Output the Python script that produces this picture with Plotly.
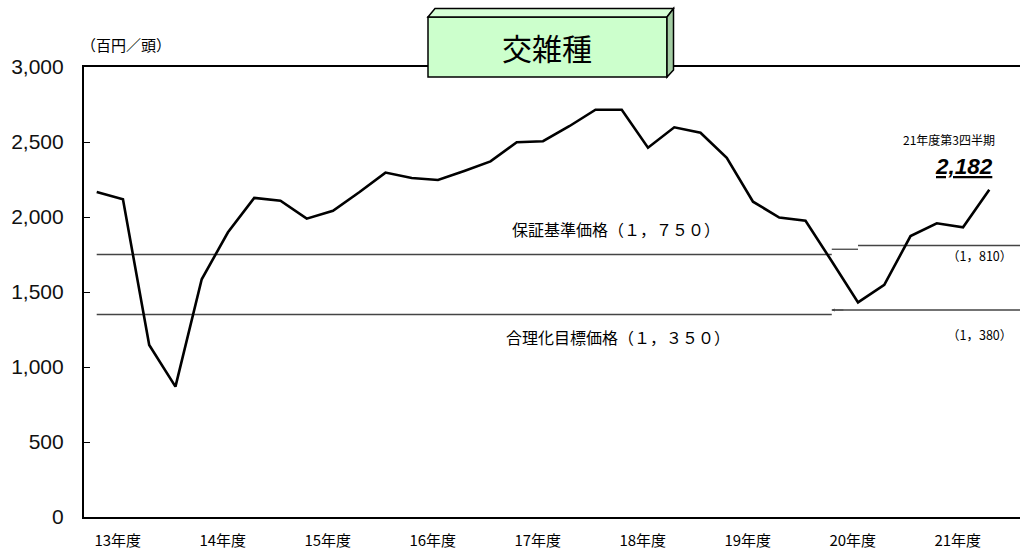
import plotly.graph_objects as go

# ---- data ----
quarters = list(range(35))  # 13年度Q1 ... 21年度Q3
prices = [2167, 2118, 1147, 869, 1585, 1898, 2127, 2109, 1989, 2042,
          2165, 2296, 2260, 2247, 2307, 2371, 2498, 2505, 2605, 2715,
          2715, 2462, 2598, 2562, 2395, 2102, 1996, 1975, 1705, 1431,
          1547, 1873, 1958, 1931, 2182]
year_labels = ["13年度", "14年度", "15年度", "16年度", "17年度",
               "18年度", "19年度", "20年度", "21年度"]
year_label_pos = [0.8 + 4 * k for k in range(len(year_labels))]

# guarantee price lines (segments)
guar_x0 = [0, 28, 29]
guar_x1 = [28, 29, 36]
guar_v = [1750, 1785, 1810]
# rationalization target price lines
targ_x0 = [0, 28]
targ_x1 = [28, 36]
targ_v = [1350, 1380]

last_label = "21年度第3四半期"

# ---- figure ----
W, H = 1020, 551
ML, MR, MT, MB = 84, 0, 67, 34
PW, PH = W - ML - MR, H - MT - MB


def px(x):
    return (x - ML) / PW


def py(y):
    return (H - MB - y) / PH


fig = go.Figure()

# reference lines
for xs0, xs1, vs in ((guar_x0, guar_x1, guar_v), (targ_x0, targ_x1, targ_v)):
    for a, b, v in zip(xs0, xs1, vs):
        fig.add_trace(go.Scatter(x=[a, b], y=[v, v], mode="lines",
                                 line=dict(color="#444444", width=1.3),
                                 hoverinfo="skip", showlegend=False))

fig.add_trace(go.Scatter(x=quarters, y=prices, mode="lines",
                         line=dict(color="black", width=2.6),
                         showlegend=False))

cjk = "Noto Sans CJK JP"

fig.update_layout(
    width=W, height=H,
    margin=dict(l=ML, r=MR, t=MT, b=MB, pad=0),
    paper_bgcolor="white", plot_bgcolor="white",
    xaxis=dict(range=[-0.484, 35.17], tickvals=year_label_pos, ticktext=year_labels,
               showgrid=False, zeroline=False, showline=True, mirror=True,
               linecolor="black", linewidth=2.2, ticks="", ticklabelstandoff=9,
               tickfont=dict(family=cjk, size=15, color="black")),
    yaxis=dict(range=[0, 3000], tickvals=[0, 500, 1000, 1500, 2000, 2500, 3000],
               ticktext=["0", "500", "1,000", "1,500", "2,000", "2,500", "3,000"],
               showgrid=False, zeroline=False, showline=True, mirror=False,
               linecolor="black", linewidth=2.2, ticks="inside", ticklen=6,
               tickcolor="black", tickwidth=1, ticklabelstandoff=14,
               tickfont=dict(family="Liberation Sans, Arial", size=21, color="#111111")),
)

# title box (3D bevel)
front = dict(x0=px(428), x1=px(667), y0=py(77), y1=py(17))
fig.add_shape(type="rect", xref="paper", yref="paper", **front,
              fillcolor="#CCFFCC", line=dict(color="black", width=1.5), layer="above")
top_path = "M {} {} L {} {} L {} {} L {} {} Z".format(
    px(428), py(17), px(435), py(8.5), px(673.5), py(8.5), px(667), py(17))
fig.add_shape(type="path", xref="paper", yref="paper", path=top_path,
              fillcolor="#D6FFD6", line=dict(color="black", width=1.5), layer="above")
right_path = "M {} {} L {} {} L {} {} L {} {} Z".format(
    px(667), py(17), px(673.5), py(8.5), px(673.5), py(70), px(667), py(77))
fig.add_shape(type="path", xref="paper", yref="paper", path=right_path,
              fillcolor="#A3CCA3", line=dict(color="black", width=1.5), layer="above")

fig.add_annotation(xref="paper", yref="paper", x=px(547), y=py(47), text="交雑種",
                   showarrow=False, xanchor="center", yanchor="middle",
                   font=dict(family=cjk, size=30, color="black"))

fig.add_annotation(xref="paper", yref="paper", x=px(79), y=py(45), text="（百円／頭）",
                   showarrow=False, xanchor="left", yanchor="middle",
                   font=dict(family=cjk, size=15, color="black"))

fig.add_annotation(x=19.78, y=guar_v[0], yshift=26, text="保証基準価格（１，７５０）",
                   showarrow=False, xanchor="center", yanchor="middle",
                   font=dict(family=cjk, size=16, color="black"))
fig.add_annotation(x=19.85, y=targ_v[0], yshift=-22, text="合理化目標価格（１，３５０）",
                   showarrow=False, xanchor="center", yanchor="middle",
                   font=dict(family=cjk, size=16, color="black"))
fig.add_annotation(x=34.93, y=guar_v[-1], yshift=-10, text="（1，810）",
                   showarrow=False, xanchor="right", yanchor="middle",
                   font=dict(family=cjk, size=12.5, color="black"))
fig.add_annotation(x=34.93, y=targ_v[-1], yshift=-24, text="（1，380）",
                   showarrow=False, xanchor="right", yanchor="middle",
                   font=dict(family=cjk, size=12.5, color="black"))

fig.add_annotation(x=quarters[-1], y=prices[-1], xshift=-40, yshift=50, text=last_label,
                   showarrow=False, xanchor="center", yanchor="middle",
                   font=dict(family=cjk, size=12, color="black"))
fig.add_annotation(x=quarters[-1], y=prices[-1], xshift=-25, yshift=23,
                   text="<b><i>{:,}</i></b>".format(prices[-1]),
                   showarrow=False, xanchor="center", yanchor="middle",
                   font=dict(family="Liberation Sans, Arial", size=22.5,
                             color="black", lineposition="under"))

# small arrowhead at start of the new target line
fig.add_annotation(x=targ_x0[1], y=targ_v[1], ax=targ_x0[1] + 0.5, ay=targ_v[1],
                   xref="x", yref="y", axref="x", ayref="y", text="",
                   showarrow=True, arrowhead=2, arrowsize=0.6, arrowwidth=1,
                   arrowcolor="#444444")

fig.write_html("out.html", config={"displayModeBar": False},
               post_script="document.body.style.margin='0px';")
